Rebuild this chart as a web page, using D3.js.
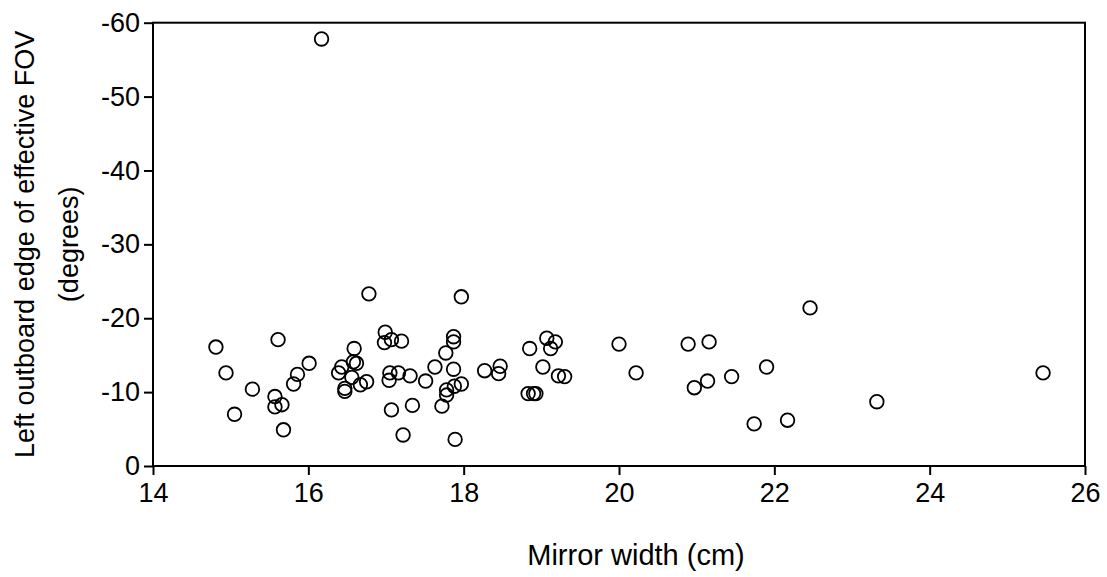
<!DOCTYPE html>
<html>
<head>
    <meta charset="utf-8">
    <title>mirror width vs FOV</title>
    <script src="https://d3js.org/d3.v7.min.js"></script>
    <style>
        body { margin: 0; background: #fff; }
        text { font-family: "Liberation Sans", Arial, sans-serif; fill: #000; }
        .frame { fill: none; stroke: #000; stroke-width: 2; }
        .dot { fill: none; stroke: #000; stroke-width: 1.8; }
        .axis path { display: none; }
        .axis line { stroke: #000; stroke-width: 2; }
        .axis text { font-size: 27px; }
        .title { font-size: 27px; }
        .xtitle { font-size: 29px; }
    </style>
</head>
<body>
<script>
    // mirror width (cm)
    var widths = [14.81, 15.61, 16.01, 15.86, 15.81, 14.94, 15.28, 15.57, 15.66, 15.57,
        15.05, 15.68, 16.17, 16.78, 16.99, 16.98, 17.07, 17.20, 16.59, 16.43,
        16.58, 16.39, 16.56, 16.75, 16.67, 16.47, 16.47, 16.62, 17.05, 17.04,
        17.16, 17.31, 17.51, 17.63, 17.87, 17.77, 17.87, 17.87, 17.78, 17.78,
        17.72, 17.88, 17.97, 17.07, 17.34, 17.22, 17.89, 17.97, 18.27, 18.47,
        18.45, 18.85, 19.07, 19.18, 19.12, 19.02, 19.22, 19.30, 18.83, 18.90,
        18.93, 20.00, 20.22, 20.89, 21.16, 21.14, 20.97, 21.45, 21.90, 21.74,
        22.17, 22.46, 23.32, 25.46];
    // left outboard edge of effective FOV (degrees)
    var edges = [-16.1, -17.1, -13.9, -12.4, -11.1, -12.6, -10.4, -9.4, -8.3, -8.0,
        -7.0, -4.9, -57.8, -23.3, -18.1, -16.7, -17.1, -16.9, -15.9, -13.4,
        -14.1, -12.6, -12.0, -11.4, -11.0, -10.5, -10.1, -13.9, -12.6, -11.6,
        -12.6, -12.2, -11.5, -13.4, -13.1, -15.3, -17.5, -16.8, -10.3, -9.6,
        -8.1, -10.8, -11.1, -7.6, -8.2, -4.2, -3.6, -22.9, -12.9, -13.5,
        -12.5, -15.9, -17.3, -16.8, -15.9, -13.4, -12.2, -12.1, -9.8, -9.8,
        -9.8, -16.5, -12.6, -16.5, -16.8, -11.5, -10.6, -12.1, -13.4, -5.7,
        -6.2, -21.4, -8.7, -12.6];
    var xTicks = [14, 16, 18, 20, 22, 24, 26];
    var yTicks = [0, -10, -20, -30, -40, -50, -60];

    var W = 1107, H = 577;
    var plotLeft = 153, plotRight = 1085, plotTop = 22.7, plotBottom = 466;

    var svg = d3.select("body").append("svg")
        .attr("width", W).attr("height", H);

    var x = d3.scaleLinear().domain([14, 26]).range([plotLeft, plotRight]);
    var y = d3.scaleLinear().domain([0, -60]).range([plotBottom, plotTop]);

    svg.append("rect").attr("class", "frame")
        .attr("x", plotLeft).attr("y", plotTop)
        .attr("width", plotRight - plotLeft).attr("height", plotBottom - plotTop);

    // plain hyphen for negatives, like the original
    var plain = function (d) { return String(d); };

    svg.append("g").attr("class", "axis")
        .attr("transform", "translate(0," + plotBottom + ")")
        .call(d3.axisBottom(x).tickValues(xTicks).tickSize(9).tickPadding(8).tickFormat(plain));

    svg.append("g").attr("class", "axis")
        .attr("transform", "translate(" + plotLeft + ",0)")
        .call(d3.axisLeft(y).tickValues(yTicks).tickSize(9).tickPadding(4).tickFormat(plain));

    svg.selectAll(".dot")
        .data(d3.range(widths.length)).enter().append("circle")
        .attr("class", "dot")
        .attr("cx", function (i) { return x(widths[i]); })
        .attr("cy", function (i) { return y(edges[i]); })
        .attr("r", 6.8);

    svg.append("text").attr("class", "xtitle")
        .attr("x", 636).attr("y", 565)
        .attr("text-anchor", "middle")
        .text("Mirror width (cm)");

    var yt = svg.append("text").attr("class", "title")
        .attr("text-anchor", "middle")
        .attr("transform", "translate(0," + ((plotTop + plotBottom) / 2) + ") rotate(-90)");
    yt.append("tspan").attr("x", 0).attr("y", 34).text("Left outboard edge of effective FOV");
    yt.append("tspan").attr("x", 0).attr("y", 78).text("(degrees)");
</script>
</body>
</html>
